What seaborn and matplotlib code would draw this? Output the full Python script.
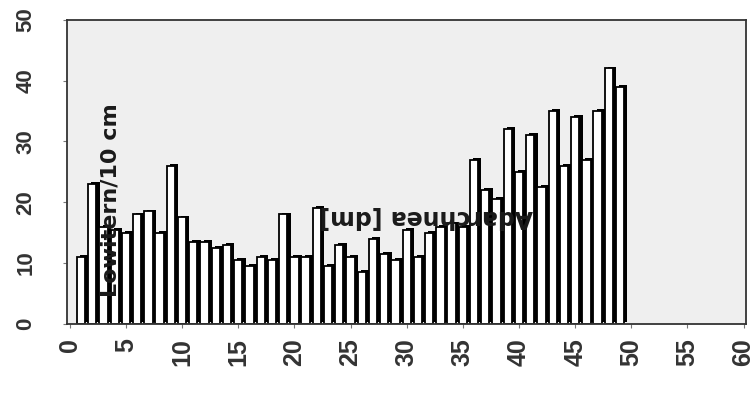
import numpy as np
import pandas as pd
import matplotlib
matplotlib.use("Agg")
import matplotlib.pyplot as plt
import matplotlib.patheffects as pe
import seaborn as sns

positions = list(range(1, 50))
values = [11, 23, 16, 15.5, 15, 18, 18.5, 15, 26, 17.5,
          13.5, 13.5, 12.5, 13, 10.5, 9.5, 11, 10.5, 18, 11,
          11, 19, 9.5, 13, 11, 8.5, 14, 11.5, 10.5, 15.5,
          11, 15, 16, 16.5, 16, 27, 22, 20.5, 32, 25,
          31, 22.5, 35, 26, 34, 27, 35, 42, 39]
x_ticks = [0, 5, 10, 15, 20, 25, 30, 35, 40, 45, 50, 55, 60]
y_ticks = [0, 10, 20, 30, 40, 50]
label_left = "Lowitern/10 cm"
label_flipped = "Adarchnea [dm]"

sns.set_theme(style="white")
plt.rcParams['font.family'] = ['Liberation Sans', 'DejaVu Sans']

fig = plt.figure(figsize=(7.56, 3.94), dpi=100)
ax = fig.add_axes([0.0886, 0.178, 0.898, 0.772])
ax.set_facecolor('#efefef')

df = pd.DataFrame({"pos": positions, "val": values})
sns.barplot(data=df, x="pos", y="val", native_scale=True, width=0.74,
            color="white", edgecolor="black", linewidth=1.3,
            errorbar=None, ax=ax, saturation=1)
for p in ax.patches:
    p.set_facecolor("white")
    p.set_path_effects([pe.SimplePatchShadow(offset=(2.3, 1.3), shadow_rgbFace="black", alpha=1.0),
                        pe.Normal()])

ax.set_xlim(-0.25, 60.2)
ax.set_ylim(0, 50)
ax.set_xticks(x_ticks)
ax.set_yticks(y_ticks)
ax.set_xticklabels([str(v) for v in x_ticks], rotation=90, fontsize=18,
                   color="#333333", fontweight="bold")
ax.set_yticklabels([str(v) for v in y_ticks], rotation=90, fontsize=16,
                   color="#333333", va="center", fontweight="bold")
ax.set_xlabel("")
ax.set_ylabel("")
ax.tick_params(axis="x", length=3, width=0.8, pad=7, direction="out", bottom=True, color="#777777")
ax.tick_params(axis="y", length=3, width=0.8, pad=19, direction="out", left=True, color="#777777")
for s in ax.spines.values():
    s.set_color("#333333")
    s.set_linewidth(1.3)

ax.text(3.6, 20.4, label_left, rotation=90, ha="center", va="center",
        fontsize=16, fontweight="bold", color="#1a1a1a", zorder=5,
        family=["DejaVu Sans"])
ax.text(31.7, 17.6, label_flipped, rotation=180, ha="center", va="center",
        fontsize=17, fontweight="bold", color="#1a1a1a", zorder=5,
        family=["DejaVu Sans"])

fig.savefig("out.png", dpi=100, facecolor="white")
